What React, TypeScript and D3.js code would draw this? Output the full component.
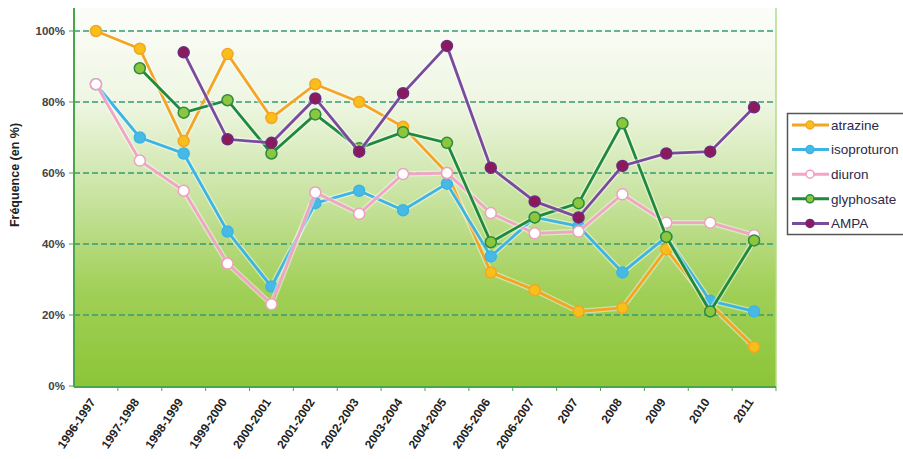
import React from 'react';
import * as d3 from 'd3';

// categories (x axis)
const CATEGORIES = [
  '1996-1997', '1997-1998', '1998-1999', '1999-2000', '2000-2001', '2001-2002',
  '2002-2003', '2003-2004', '2004-2005', '2005-2006', '2006-2007',
  '2007', '2008', '2009', '2010', '2011',
];

// series values, in % (null = no measure)
const ATRAZINE = [100, 95, 69, 93.5, 75.5, 85, 80, 73, 60, 32, 27, 21, 22, 38.5, 23, 11];
const ISOPROTURON = [85, 70, 65.5, 43.5, 28, 51.5, 55, 49.5, 57, 36.5, 47.5, 45, 32, 42, 24, 21];
const DIURON = [85, 63.5, 55, 34.5, 23, 54.5, 48.5, 59.7, 60, 48.7, 43, 43.5, 54, 46, 46, 42.5];
const GLYPHOSATE = [null, 89.5, 77, 80.5, 65.5, 76.5, 67, 71.5, 68.5, 40.5, 47.5, 51.5, 74, 42, 21, 41];
const AMPA = [null, null, 94, 69.5, 68.5, 81, 66, 82.5, 95.8, 61.5, 52, 47.5, 62, 65.5, 66, 78.5];

const Y_TICKS = [0, 20, 40, 60, 80, 100];

const SERIES = [
  { name: 'atrazine', values: ATRAZINE, line: '#f4a524', fill: '#f8bf1a', stroke: '#f4a524' },
  { name: 'isoproturon', values: ISOPROTURON, line: '#3cb4e4', fill: '#48b9e4', stroke: '#3cb4e4' },
  { name: 'diuron', values: DIURON, line: '#f1a4c4', fill: '#ffffff', stroke: '#eea0c0' },
  { name: 'glyphosate', values: GLYPHOSATE, line: '#1f8a3c', fill: '#8cc63f', stroke: '#2a8c3c' },
  { name: 'AMPA', values: AMPA, line: '#7a4a9c', fill: '#8b1a5c', stroke: '#6e2a80' },
];

const W = 903;
const H = 459;
const left = 74;
const right = 776;
const top = 8;
const bottom = 387;

const FONT = '"Liberation Sans", Arial, sans-serif';

export default function App() {
  const x = d3.scaleBand<string>().domain(CATEGORIES).range([left, right]);
  const y = d3.scaleLinear().domain([0, 100]).range([386, 31]);
  const cx = (c: string) => (x(c) ?? 0) + x.bandwidth() / 2;

  const line = d3
    .line<number | null>()
    .defined((d) => d != null)
    .x((_, i) => cx(CATEGORIES[i]))
    .y((d) => y(d as number));

  return (
    <svg width={W} height={H} style={{ position: 'absolute', left: 0, top: 0, background: '#fff' }}>
      <defs>
        <linearGradient id="bg" x1="0" y1="0" x2="0" y2="1">
          <stop offset="0" stopColor="#fcfdf9" />
          <stop offset="0.25" stopColor="#eef6e2" />
          <stop offset="0.5" stopColor="#c8e3a0" />
          <stop offset="0.75" stopColor="#a0cf56" />
          <stop offset="1" stopColor="#8cc538" />
        </linearGradient>
      </defs>

      <rect x={left} y={top} width={right - left} height={bottom - top} fill="url(#bg)" />

      {/* grid lines */}
      {Y_TICKS.filter((t) => t > 0).map((t) => (
        <line
          key={t}
          x1={left}
          x2={right}
          y1={y(t)}
          y2={y(t)}
          stroke="#379a72"
          strokeWidth={1.5}
          strokeDasharray="6,3"
        />
      ))}

      {/* axes */}
      <line x1={right} x2={right} y1={top} y2={bottom} stroke="#b5d98a" strokeWidth={1.5} />
      <line x1={left} x2={left} y1={top} y2={bottom} stroke="#4aa64a" strokeWidth={2} />
      <line x1={left} x2={right} y1={bottom} y2={bottom} stroke="#4aa64a" strokeWidth={2} />
      {Y_TICKS.map((t) => (
        <g key={t}>
          <line x1={left - 5} x2={left} y1={y(t)} y2={y(t)} stroke="#4aa64a" strokeWidth={1} />
          <text
            x={left - 9}
            y={y(t)}
            dy="0.35em"
            textAnchor="end"
            fontFamily={FONT}
            fontSize={11.5}
            fontWeight="bold"
            fill="#444"
          >
            {t}%
          </text>
        </g>
      ))}
      {CATEGORIES.map((c) => (
        <line
          key={'t' + c}
          x1={(x(c) ?? 0) + x.bandwidth()}
          x2={(x(c) ?? 0) + x.bandwidth()}
          y1={bottom}
          y2={bottom + 4}
          stroke="#4aa64a"
          strokeWidth={1}
        />
      ))}
      {CATEGORIES.map((c) => (
        <text
          key={'l' + c}
          transform={`translate(${cx(c)},${bottom + 15}) rotate(-56)`}
          textAnchor="end"
          fontFamily={FONT}
          fontSize={12}
          fontWeight="bold"
          fill="#222"
        >
          {c}
        </text>
      ))}

      <text
        transform={`translate(19,175) rotate(-90)`}
        textAnchor="middle"
        fontFamily={FONT}
        fontSize={12.5}
        fontWeight="bold"
        fill="#222"
      >
        Fréquence (en %)
      </text>

      {/* series */}
      {SERIES.map((s) => (
        <g key={s.name}>
          <path d={line(s.values) ?? ''} fill="none" stroke="#fff" strokeOpacity={0.45} strokeWidth={5.5} />
          <path d={line(s.values) ?? ''} fill="none" stroke={s.line} strokeWidth={2.8} />
          {s.values.map((v, i) =>
            v == null ? null : (
              <circle
                key={i}
                cx={cx(CATEGORIES[i])}
                cy={y(v)}
                r={5.5}
                fill={s.fill}
                stroke={s.stroke}
                strokeWidth={1.5}
              />
            )
          )}
        </g>
      ))}

      {/* legend */}
      <rect x={787.5} y={113.5} width={130} height={121} fill="#fff" stroke="#555" strokeWidth={1.5} />
      {SERIES.map((s, i) => {
        const ly = 125 + i * 24.6;
        return (
          <g key={'lg' + s.name}>
            <line x1={792} x2={829} y1={ly} y2={ly} stroke={s.line} strokeWidth={3} />
            <circle cx={810} cy={ly} r={4} fill={s.fill} stroke={s.stroke} strokeWidth={1.5} />
            <text x={831} y={ly} dy="0.35em" fontFamily={FONT} fontSize={13.5} fill="#2a2a4a">
              {s.name}
            </text>
          </g>
        );
      })}
    </svg>
  );
}
